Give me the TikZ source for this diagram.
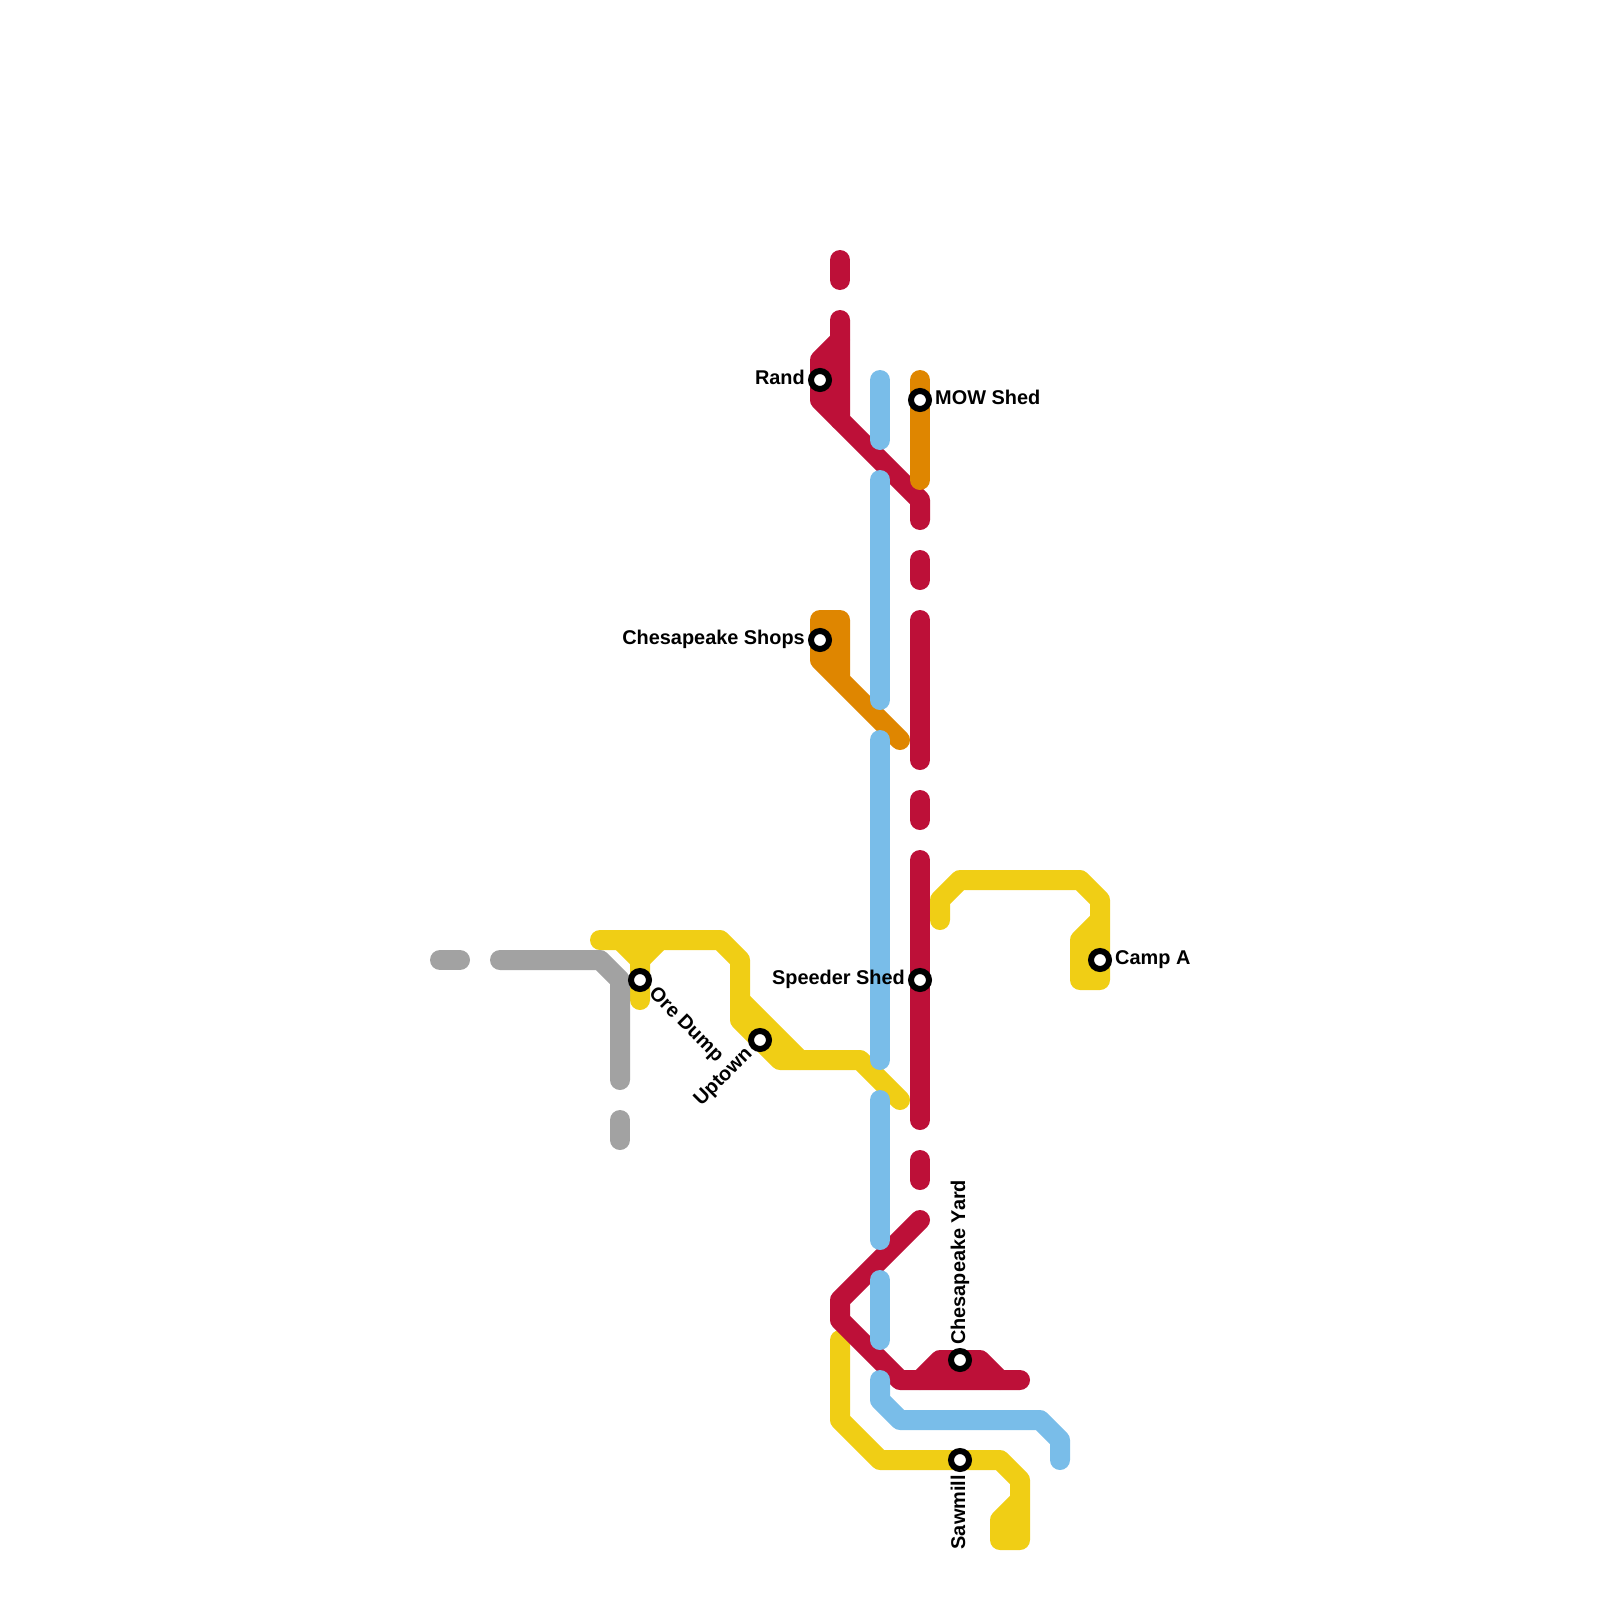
\documentclass[tikz,border=0pt]{standalone}
\usepackage{fontspec}
\setmainfont{Liberation Sans}
\definecolor{lred}{HTML}{BD1038}
\definecolor{lblue}{HTML}{79BDE9}
\definecolor{lyellow}{HTML}{F0CE15}
\definecolor{lorange}{HTML}{DF8600}
\definecolor{lgray}{HTML}{A2A2A2}
\tikzset{
  route/.style={line width=20pt,line cap=round,line join=round},
  redline/.style={route,draw=lred},
  blueline/.style={route,draw=lblue},
  yellowline/.style={route,draw=lyellow},
  orangeline/.style={route,draw=lorange},
  grayline/.style={route,draw=lgray},
  station/.style={circle,draw=black,fill=white,line width=6pt,minimum size=18pt,inner sep=0pt,outer sep=0pt},
  stlabel/.style={inner sep=0pt,text=black,font=\fontsize{19.9}{22}\selectfont\bfseries}
}
\begin{document}
\begin{tikzpicture}[x=1pt,y=-1pt]
\useasboundingbox (0,0) rectangle (1600,1600);
% yellow
\draw[yellowline] (600,940) -- (720,940) -- (740,960) -- (740,1020) -- (780,1060) -- (860,1060) -- (900,1100);
\draw[yellowline] (740,1000) -- (800,1060);
\draw[yellowline] (620,940) -- (640,960) -- (640,1000);
\draw[yellowline] (660,940) -- (640,960);
\draw[yellowline] (940,920) -- (940,900) -- (960,880) -- (1080,880) -- (1100,900) -- (1100,980) -- (1080,980) -- (1080,940) -- (1100,920);
\draw[yellowline] (840,1340) -- (840,1420) -- (880,1460) -- (1000,1460) -- (1020,1480) -- (1020,1540) -- (1000,1540) -- (1000,1520) -- (1020,1500);
% gray
\draw[grayline] (440,960) -- (460,960);
\draw[grayline] (500,960) -- (600,960) -- (620,980) -- (620,1080);
\draw[grayline] (620,1120) -- (620,1140);
% red
\draw[redline] (840,260) -- (840,280);
\draw[redline] (840,320) -- (840,420) -- (920,500) -- (920,520);
\draw[redline] (840,340) -- (820,360) -- (820,400) -- (840,420);
\draw[redline] (920,560) -- (920,580);
\draw[redline] (920,620) -- (920,760);
\draw[redline] (920,800) -- (920,820);
\draw[redline] (920,860) -- (920,1120);
\draw[redline] (920,1160) -- (920,1180);
\draw[redline] (920,1220) -- (840,1300) -- (840,1320) -- (900,1380) -- (1020,1380);
\draw[redline] (920,1380) -- (940,1360) -- (980,1360) -- (1000,1380);
% orange
\draw[orangeline] (920,380) -- (920,480);
\draw[orangeline] (900,740) -- (820,660) -- (820,620) -- (840,620) -- (840,680);
% blue
\draw[blueline] (880,380) -- (880,440);
\draw[blueline] (880,480) -- (880,700);
\draw[blueline] (880,740) -- (880,1060);
\draw[blueline] (880,1100) -- (880,1240);
\draw[blueline] (880,1280) -- (880,1340);
\draw[blueline] (880,1380) -- (880,1400) -- (900,1420) -- (1040,1420) -- (1060,1440) -- (1060,1460);
% stations
\node[station] (rand) at (820,380) {};
\node[station] (mow) at (920,400) {};
\node[station] (shops) at (820,640) {};
\node[station] (speeder) at (920,980) {};
\node[station] (ore) at (640,980) {};
\node[station] (uptown) at (760,1040) {};
\node[station] (camp) at (1100,960) {};
\node[station] (yard) at (960,1360) {};
\node[station] (sawmill) at (960,1460) {};
% labels
\node[stlabel,anchor=base east] (randl) at (805,384) {Rand};
\node[stlabel,anchor=base west] (mowl) at (935,404) {MOW Shed};
\node[stlabel,anchor=base east] (shopsl) at (805,644) {Chesapeake Shops};
\node[stlabel,anchor=base east] (speederl) at (905,984) {Speeder Shed};
\node[stlabel,anchor=base west] (campl) at (1115,964) {Camp A};
\node[stlabel,anchor=base west,rotate=-45] (orel) at (648,994.5) {Ore Dump};
\node[stlabel,anchor=base east,rotate=45] (uptownl) at (753,1055) {Uptown};
\node[stlabel,anchor=base west,rotate=90] (yardl) at (965,1345) {Chesapeake Yard};
\node[stlabel,anchor=base east,rotate=90] (sawmilll) at (965,1475) {Sawmill};
\end{tikzpicture}
\end{document}
